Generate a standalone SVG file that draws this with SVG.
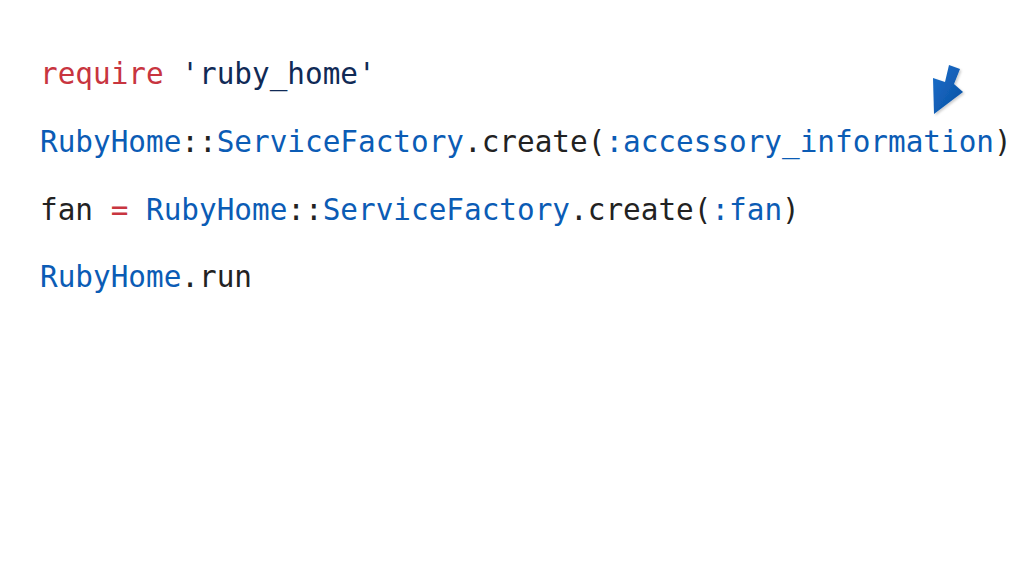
<svg xmlns="http://www.w3.org/2000/svg" width="1024" height="576" viewBox="0 0 1024 576">
<style>
.code{font-family:"DejaVu Sans Mono","Liberation Mono",monospace;font-size:29.35px;fill:#222222;white-space:pre}
.kw{fill:#c8353f}
.str{fill:#102a56}
.cn{fill:#0b5cb5}
</style>
<defs>
<linearGradient id="ag" x1="0" y1="0" x2="1" y2="1">
<stop offset="0" stop-color="#1a6fcc"/>
<stop offset="1" stop-color="#0a4fa0"/>
</linearGradient>
<filter id="sh" x="-30%" y="-30%" width="160%" height="160%">
<feDropShadow dx="1.5" dy="1.5" stdDeviation="1.2" flood-color="#000" flood-opacity="0.2"/>
</filter>
</defs>
<rect width="1024" height="576" fill="#ffffff"/>
<g id="code">
<text class="code" x="40" y="84" xml:space="preserve"><tspan class="kw">require</tspan> <tspan class="str">'ruby_home'</tspan></text>
<text class="code" x="40" y="152" xml:space="preserve"><tspan class="cn">RubyHome</tspan>::<tspan class="cn">ServiceFactory</tspan>.create(<tspan class="cn">:accessory_information</tspan>)</text>
<text class="code" x="40" y="220" xml:space="preserve">fan <tspan class="kw">=</tspan> <tspan class="cn">RubyHome</tspan>::<tspan class="cn">ServiceFactory</tspan>.create(<tspan class="cn">:fan</tspan>)</text>
<text class="code" x="40" y="287" xml:space="preserve"><tspan class="cn">RubyHome</tspan>.run</text>
</g>
<g id="arrow">
<polygon points="949,65 960,69 954,84 963,92 934,114 933,78 945,82" fill="url(#ag)" filter="url(#sh)"/>
</g>
</svg>
